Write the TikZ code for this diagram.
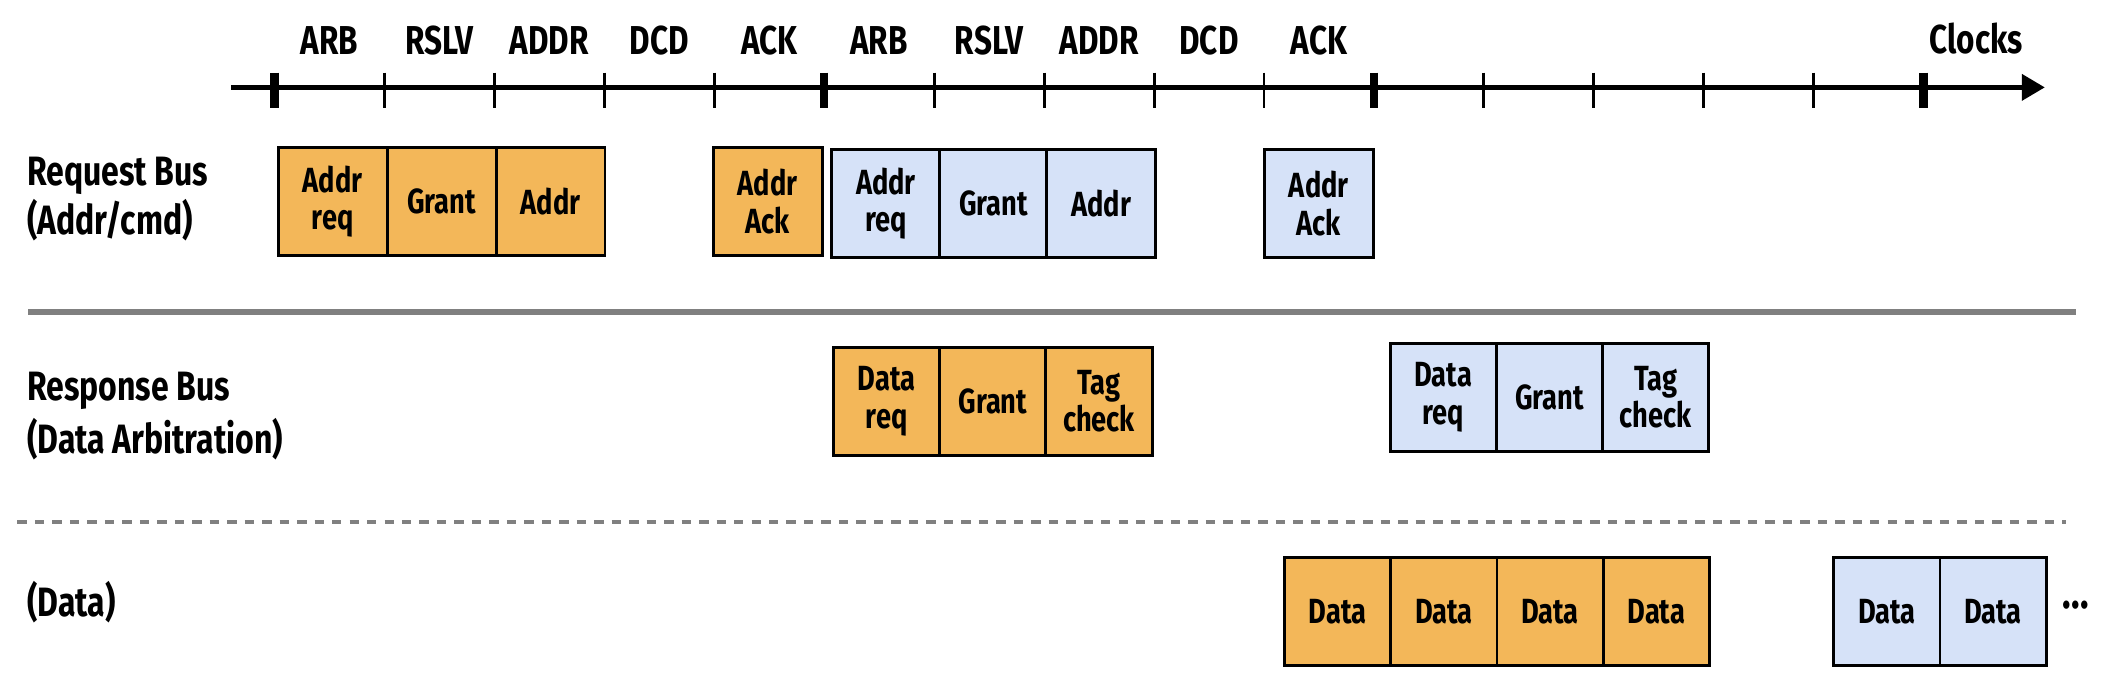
\documentclass[tikz,border=0pt]{standalone}
\usepackage{fontspec}
\setmainfont{Fira Sans}[FakeStretch=0.78]
\usetikzlibrary{arrows.meta}
\definecolor{boxorange}{RGB}{243,183,89}
\definecolor{boxblue}{RGB}{214,226,248}
\definecolor{sepgray}{RGB}{128,128,128}
\begin{document}
\begin{tikzpicture}[x=1pt,y=-1pt,
  cell/.style={draw=black, line width=2.2pt, minimum width=81pt, minimum height=80pt,
    inner sep=0pt, align=center, font=\fontsize{26}{28}\selectfont\bfseries},
  org/.style={cell, fill=boxorange},
  blu/.style={cell, fill=boxblue},
  dcell/.style={cell, minimum width=79pt},
  hdr/.style={font=\fontsize{30}{32}\selectfont\bfseries, inner sep=0pt},
  rowlbl/.style={font=\fontsize{30.5}{32}\selectfont\bfseries, inner sep=0pt, anchor=west},
  thintick/.style={line width=2.2pt},
  thicktick/.style={line width=6.5pt},
]
\useasboundingbox (0,0) rectangle (1568,508.8);

% time axis
\coordinate (axs) at (172,65);
\coordinate (axe) at (1521,65);
\draw[line width=3.5pt, -{Triangle[length=17pt,width=19pt]}] (axs) -- (axe);
\foreach \i in {0,...,15}{
  \pgfmathsetmacro{\xx}{204+81.8*\i}
  \pgfmathtruncatemacro{\m}{mod(\i,5)}
  \ifnum\m=0
    \draw[thicktick] (\xx,54) -- (\xx,80);
  \else
    \draw[thintick] (\xx,54) -- (\xx,80);
  \fi
}
\foreach \t [count=\i from 0] in {ARB,RSLV,ADDR,DCD,ACK,ARB,RSLV,ADDR,DCD,ACK}{
  \node[hdr] (h\i) at ({204+81.8*(\i+0.5)},30) {\t};
}
\node[hdr] (clocks) at (1470,29) {Clocks};

% row labels
\node[rowlbl] (rq1) at (20,131) {Request Bus};
\node[rowlbl] (rq2) at (20,164) {(Addr/cmd)};
\node[rowlbl] (rs1) at (20,291) {Response Bus};
\node[rowlbl] (rs2) at (20,327) {(Data Arbitration)};
\node[rowlbl] (dt) at (20,448) {(Data)};

% separators
\coordinate (sepL) at (21,232);
\coordinate (sepR) at (1544,232);
\draw[sepgray, line width=5pt] (sepL) -- (sepR);
\coordinate (dshL) at (13,388);
\coordinate (dshR) at (1537,388);
\draw[sepgray, line width=3pt, dash pattern=on 7pt off 6pt] (dshL) -- (dshR);

% request bus
\node[org] (a1) at (247.5,150) {Addr\\req};
\node[org] (a2) at (328.5,150) {Grant};
\node[org] (a3) at (409.5,150) {Addr};
\node[org] (a4) at (571,150) {Addr\\Ack};
\node[blu] (b1) at (659,151.5) {Addr\\req};
\node[blu] (b2) at (739,151.5) {Grant};
\node[blu] (b3) at (819,151.5) {Addr};
\node[blu] (b4) at (981,151.5) {Addr\\Ack};

% response bus
\node[org, dcell] (c1) at (659.5,298.5) {Data\\req};
\node[org, dcell] (c2) at (738.5,298.5) {Grant};
\node[org, dcell] (c3) at (817.5,298.5) {Tag\\check};
\node[blu, dcell] (d1) at (1073.5,295.5) {Data\\req};
\node[blu, dcell] (d2) at (1152.5,295.5) {Grant};
\node[blu, dcell] (d3) at (1231.5,295.5) {Tag\\check};

% data
\node[org, dcell] (e1) at (995,455) {Data};
\node[org, dcell] (e2) at (1074,455) {Data};
\node[org, dcell] (e3) at (1153,455) {Data};
\node[org, dcell] (e4) at (1232,455) {Data};
\node[blu, dcell] (f1) at (1403.5,455) {Data};
\node[blu, dcell] (f2) at (1482.5,455) {Data};
\node[font=\fontsize{34}{36}\selectfont\bfseries, inner sep=0pt] (dots) at (1544,450) {...};
\end{tikzpicture}
\end{document}
